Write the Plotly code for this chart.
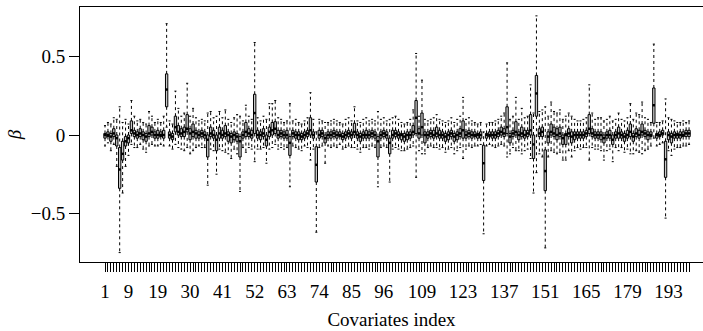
import plotly.graph_objects as go

# Covariate indices
idx = list(range(1, 201))

# Medians of beta for each covariate
med = [0.00, 0.00, -0.01, 0.01, -0.02, -0.22, -0.12, -0.04, -0.02, 0.03,
       0.01, 0.00, 0.01, 0.00, -0.01, 0.01, 0.02, 0.00, 0.00, 0.00,
       0.00, 0.29, 0.00, -0.01, 0.05, 0.02, 0.01, 0.02, 0.04, 0.01,
       0.02, 0.01, 0.00, 0.01, 0.00, -0.03, 0.01, 0.00, -0.03, 0.01,
       0.00, 0.01, 0.00, -0.01, 0.00, -0.01, -0.04, 0.00, 0.02, 0.01,
       0.00, 0.14, 0.00, 0.00, 0.01, -0.03, 0.02, 0.03, 0.04, 0.00,
       0.01, 0.00, 0.00, -0.05, 0.01, 0.00, 0.00, -0.01, 0.00, 0.01,
       0.03, 0.00, -0.19, 0.00, 0.01, -0.02, 0.00, 0.00, 0.01, 0.00,
       0.00, -0.01, 0.00, 0.01, 0.00, 0.02, 0.00, -0.01, 0.00, 0.00,
       0.00, 0.01, 0.00, -0.04, 0.00, 0.01, 0.00, -0.05, 0.00, 0.01,
       0.00, 0.00, -0.01, 0.00, 0.00, 0.02, 0.11, 0.01, 0.05, 0.00,
       0.00, 0.01, 0.00, 0.01, 0.00, 0.00, -0.01, 0.00, 0.01, -0.01,
       0.00, 0.01, 0.03, 0.00, 0.01, 0.00, 0.00, 0.00, 0.00, -0.18,
       0.00, 0.00, 0.00, 0.00, 0.01, 0.02, 0.01, 0.05, -0.01, 0.01,
       0.02, 0.00, 0.01, 0.00, 0.01, 0.03, -0.06, 0.265, 0.01, 0.02,
       -0.23, -0.01, 0.02, 0.01, 0.00, 0.01, -0.02, 0.00, 0.01, -0.01,
       0.00, 0.00, 0.00, 0.00, 0.01, 0.04, 0.01, 0.00, 0.00, 0.00,
       -0.02, 0.00, 0.00, -0.03, 0.00, 0.01, 0.00, -0.01, 0.00, 0.02,
       -0.01, 0.01, 0.00, 0.02, 0.01, 0.00, 0.00, 0.19, 0.00, 0.00,
       0.01, -0.155, 0.00, -0.01, 0.00, 0.00, 0.00, 0.00, 0.01, 0.01]

# First quartiles
q1 = [-0.02, -0.01, -0.04, -0.01, -0.07, -0.34, -0.16, -0.07, -0.05, 0.01,
      -0.01, -0.02, -0.01, -0.03, -0.04, -0.01, 0.00, -0.02, -0.02, -0.01,
      -0.02, 0.18, -0.02, -0.03, 0.02, 0.00, -0.01, -0.01, 0.02, -0.03,
      -0.01, -0.02, -0.02, -0.01, -0.02, -0.14, -0.01, -0.02, -0.10, -0.02,
      -0.02, -0.01, -0.04, -0.05, -0.03, -0.04, -0.14, -0.02, -0.01, -0.01,
      -0.02, 0.01, -0.02, -0.03, -0.01, -0.07, -0.01, 0.00, 0.01, -0.02,
      -0.01, -0.02, -0.02, -0.13, -0.01, -0.02, -0.03, -0.03, -0.02, -0.01,
      0.00, -0.02, -0.30, -0.02, -0.01, -0.05, -0.02, -0.02, -0.01, -0.02,
      -0.01, -0.03, -0.02, -0.01, -0.02, 0.00, -0.02, -0.04, -0.02, -0.02,
      -0.02, -0.01, -0.02, -0.14, -0.02, -0.01, -0.02, -0.12, -0.02, -0.01,
      -0.02, -0.03, -0.04, -0.03, -0.02, 0.00, 0.01, -0.02, 0.00, -0.05,
      -0.02, -0.01, -0.02, -0.01, -0.02, -0.02, -0.04, -0.03, -0.01, -0.04,
      -0.03, -0.01, -0.02, -0.02, -0.01, -0.02, -0.01, -0.02, -0.02, -0.29,
      -0.02, -0.01, -0.02, -0.02, -0.01, 0.00, -0.01, 0.01, -0.05, -0.01,
      0.00, -0.03, -0.01, -0.02, -0.01, 0.00, -0.15, 0.12, -0.01, -0.01,
      -0.355, -0.05, 0.00, -0.01, -0.03, -0.01, -0.06, -0.06, -0.01, -0.05,
      -0.03, -0.02, -0.02, -0.02, -0.01, 0.01, -0.01, -0.02, -0.02, -0.03,
      -0.05, -0.02, -0.02, -0.06, -0.02, -0.02, -0.02, -0.04, -0.02, -0.01,
      -0.04, -0.01, -0.02, 0.00, -0.01, -0.03, -0.01, 0.075, -0.02, -0.01,
      0.00, -0.27, -0.03, -0.05, -0.02, -0.02, -0.02, -0.01, -0.01, -0.01]

# Third quartiles
q3 = [0.01, 0.02, 0.01, 0.04, 0.00, -0.08, -0.04, -0.01, 0.00, 0.09,
      0.03, 0.02, 0.04, 0.02, 0.01, 0.06, 0.05, 0.02, 0.03, 0.02,
      0.03, 0.39, 0.02, 0.01, 0.12, 0.06, 0.04, 0.05, 0.13, 0.04,
      0.07, 0.03, 0.02, 0.03, 0.02, 0.00, 0.05, 0.03, 0.00, 0.05,
      0.03, 0.06, 0.02, 0.01, 0.02, 0.01, -0.01, 0.02, 0.08, 0.04,
      0.03, 0.26, 0.03, 0.02, 0.04, 0.00, 0.05, 0.08, 0.085, 0.03,
      0.03, 0.02, 0.03, -0.01, 0.03, 0.02, 0.02, 0.01, 0.02, 0.03,
      0.11, 0.02, -0.075, 0.03, 0.03, 0.00, 0.02, 0.02, 0.03, 0.02,
      0.02, 0.01, 0.02, 0.03, 0.02, 0.075, 0.02, 0.01, 0.02, 0.03,
      0.02, 0.03, 0.02, -0.01, 0.02, 0.03, 0.02, -0.02, 0.03, 0.03,
      0.02, 0.01, 0.01, 0.02, 0.02, 0.06, 0.22, 0.04, 0.14, 0.02,
      0.02, 0.03, 0.03, 0.05, 0.03, 0.02, 0.01, 0.02, 0.03, 0.01,
      0.02, 0.04, 0.09, 0.02, 0.03, 0.02, 0.02, 0.01, 0.02, -0.065,
      0.01, 0.02, 0.02, 0.02, 0.03, 0.05, 0.04, 0.18, 0.01, 0.03,
      0.085, 0.02, 0.05, 0.03, 0.03, 0.13, 0.00, 0.38, 0.04, 0.05,
      -0.095, 0.02, 0.07, 0.05, 0.04, 0.05, 0.00, 0.01, 0.04, 0.02,
      0.02, 0.02, 0.02, 0.02, 0.03, 0.13, 0.04, 0.02, 0.02, 0.02,
      0.00, 0.02, 0.03, 0.00, 0.02, 0.05, 0.02, 0.01, 0.03, 0.07,
      0.01, 0.04, 0.03, 0.07, 0.03, 0.02, 0.02, 0.30, 0.01, 0.02,
      0.03, -0.04, 0.02, 0.01, 0.02, 0.01, 0.02, 0.02, 0.03, 0.03]

# Lower whisker ends
lo = [-0.07, -0.05, -0.10, -0.06, -0.20, -0.75, -0.37, -0.20, -0.13, -0.06,
      -0.08, -0.08, -0.06, -0.09, -0.11, -0.07, -0.06, -0.07, -0.07, -0.06,
      -0.07, 0.05, -0.07, -0.09, -0.06, -0.08, -0.09, -0.10, -0.08, -0.12,
      -0.10, -0.08, -0.07, -0.08, -0.08, -0.32, -0.09, -0.10, -0.25, -0.09,
      -0.10, -0.11, -0.12, -0.15, -0.09, -0.12, -0.36, -0.08, -0.11, -0.08,
      -0.09, -0.17, -0.09, -0.09, -0.08, -0.18, -0.09, -0.08, -0.06, -0.09,
      -0.08, -0.09, -0.08, -0.33, -0.07, -0.08, -0.09, -0.10, -0.07, -0.08,
      -0.16, -0.09, -0.62, -0.08, -0.07, -0.18, -0.07, -0.08, -0.07, -0.08,
      -0.06, -0.09, -0.08, -0.07, -0.08, -0.08, -0.09, -0.11, -0.08, -0.08,
      -0.09, -0.07, -0.08, -0.33, -0.08, -0.07, -0.08, -0.30, -0.09, -0.08,
      -0.09, -0.10, -0.10, -0.09, -0.08, -0.07, -0.27, -0.10, -0.12, -0.12,
      -0.08, -0.07, -0.08, -0.08, -0.09, -0.08, -0.11, -0.09, -0.08, -0.12,
      -0.10, -0.08, -0.15, -0.09, -0.07, -0.08, -0.07, -0.07, -0.06, -0.63,
      -0.07, -0.06, -0.07, -0.08, -0.07, -0.06, -0.07, -0.14, -0.12, -0.08,
      -0.10, -0.10, -0.12, -0.10, -0.09, -0.15, -0.37, -0.24, -0.12, -0.14,
      -0.72, -0.14, -0.10, -0.11, -0.12, -0.11, -0.16, -0.16, -0.10, -0.14,
      -0.10, -0.08, -0.09, -0.08, -0.08, -0.16, -0.08, -0.09, -0.09, -0.10,
      -0.16, -0.10, -0.09, -0.17, -0.08, -0.10, -0.08, -0.11, -0.09, -0.12,
      -0.12, -0.10, -0.11, -0.12, -0.10, -0.09, -0.07, -0.02, -0.07, -0.06,
      -0.05, -0.53, -0.10, -0.13, -0.09, -0.08, -0.08, -0.07, -0.07, -0.06]

# Upper whisker ends
hi = [0.06, 0.08, 0.07, 0.11, 0.10, 0.18, 0.08, 0.10, 0.07, 0.22,
      0.12, 0.09, 0.10, 0.08, 0.07, 0.15, 0.12, 0.08, 0.10, 0.08,
      0.12, 0.71, 0.09, 0.07, 0.28, 0.17, 0.12, 0.14, 0.33, 0.12,
      0.17, 0.11, 0.09, 0.10, 0.09, 0.14, 0.15, 0.11, 0.12, 0.15,
      0.11, 0.16, 0.10, 0.08, 0.11, 0.13, 0.12, 0.09, 0.19, 0.12,
      0.10, 0.59, 0.11, 0.09, 0.12, 0.10, 0.20, 0.20, 0.22, 0.11,
      0.10, 0.08, 0.09, 0.20, 0.09, 0.10, 0.08, 0.07, 0.09, 0.11,
      0.27, 0.10, 0.02, 0.10, 0.09, 0.08, 0.08, 0.09, 0.10, 0.09,
      0.08, 0.07, 0.10, 0.11, 0.09, 0.18, 0.09, 0.08, 0.10, 0.11,
      0.09, 0.10, 0.09, 0.15, 0.10, 0.11, 0.09, 0.10, 0.11, 0.12,
      0.10, 0.08, 0.07, 0.08, 0.10, 0.16, 0.52, 0.12, 0.35, 0.10,
      0.09, 0.10, 0.11, 0.13, 0.10, 0.09, 0.08, 0.09, 0.11, 0.08,
      0.10, 0.12, 0.24, 0.10, 0.11, 0.09, 0.08, 0.07, 0.08, 0.02,
      0.07, 0.08, 0.08, 0.09, 0.10, 0.12, 0.14, 0.46, 0.10, 0.12,
      0.24, 0.10, 0.17, 0.11, 0.12, 0.32, 0.14, 0.76, 0.15, 0.16,
      0.18, 0.12, 0.21, 0.15, 0.14, 0.16, 0.10, 0.12, 0.14, 0.12,
      0.10, 0.09, 0.09, 0.10, 0.11, 0.32, 0.14, 0.10, 0.11, 0.11,
      0.09, 0.10, 0.12, 0.09, 0.10, 0.14, 0.10, 0.09, 0.11, 0.20,
      0.10, 0.14, 0.13, 0.21, 0.11, 0.10, 0.08, 0.58, 0.08, 0.08,
      0.09, 0.23, 0.11, 0.10, 0.09, 0.08, 0.08, 0.09, 0.08, 0.09]

# Index values that carry a printed tick label
label_idx = [1, 9, 19, 30, 41, 52, 63, 74, 85, 96, 109, 123, 137, 151, 165, 179, 193]
y_tickvals = [-0.5, 0, 0.5]
y_ticktext = ["\u22120.5", "0", "0.5"]

BOXW = 0.8
CAPW = 0.7
FONT = "Liberation Serif"

n = len(idx)
wx, wy, cx, cy, mx, my = [], [], [], [], [], []
for i in range(n):
    x = idx[i]
    wx += [x, x, None, x, x, None]
    wy += [q1[i], lo[i], None, q3[i], hi[i], None]
    cx += [x - CAPW / 2, x + CAPW / 2, None, x - CAPW / 2, x + CAPW / 2, None]
    cy += [lo[i], lo[i], None, hi[i], hi[i], None]
    mx += [x - BOXW / 2, x + BOXW / 2, None]
    my += [med[i], med[i], None]

fig = go.Figure()
fig.add_trace(go.Scatter(x=wx, y=wy, mode="lines",
                         line=dict(color="black", width=1, dash="3px,3px"),
                         hoverinfo="skip"))
fig.add_trace(go.Scatter(x=cx, y=cy, mode="lines",
                         line=dict(color="black", width=1), hoverinfo="skip"))
fig.add_trace(go.Box(x=idx, q1=q1, median=med, q3=q3, lowerfence=q1, upperfence=q3,
                     width=BOXW, whiskerwidth=0, fillcolor="#c8c8c8",
                     line=dict(color="black", width=1), boxpoints=False))
fig.add_trace(go.Scatter(x=mx, y=my, mode="lines",
                         line=dict(color="black", width=2.5), hoverinfo="skip"))

ticktext = [str(i) if i in label_idx else "" for i in idx]

fig.update_layout(
    width=703, height=331,
    margin=dict(l=80, r=0, t=7, b=69),
    plot_bgcolor="white", paper_bgcolor="white",
    showlegend=False,
    font=dict(family=FONT, size=19, color="black"),
    xaxis=dict(range=[-7.52, 204.75], tickmode="array", tickvals=idx, ticktext=ticktext,
               ticks="outside", ticklen=9, tickwidth=1, tickcolor="black",
               showline=True, linecolor="black", linewidth=1, mirror=True,
               showgrid=False, zeroline=False, tickangle=0, ticklabelstandoff=3,
               title=dict(text="Covariates index", standoff=11,
                          font=dict(family=FONT, size=19)),
               tickfont=dict(family=FONT, size=19)),
    yaxis=dict(range=[-0.81, 0.8165], tickmode="array", tickvals=y_tickvals,
               ticktext=y_ticktext, ticks="outside", ticklen=10, tickwidth=1,
               tickcolor="black", showline=True, linecolor="black", linewidth=1,
               showgrid=False, zeroline=False,
               title=dict(text="<i>\u03b2</i>", standoff=4,
                          font=dict(family=FONT, size=19)),
               tickfont=dict(family=FONT, size=19)),
)

fig.write_html("out.html")
